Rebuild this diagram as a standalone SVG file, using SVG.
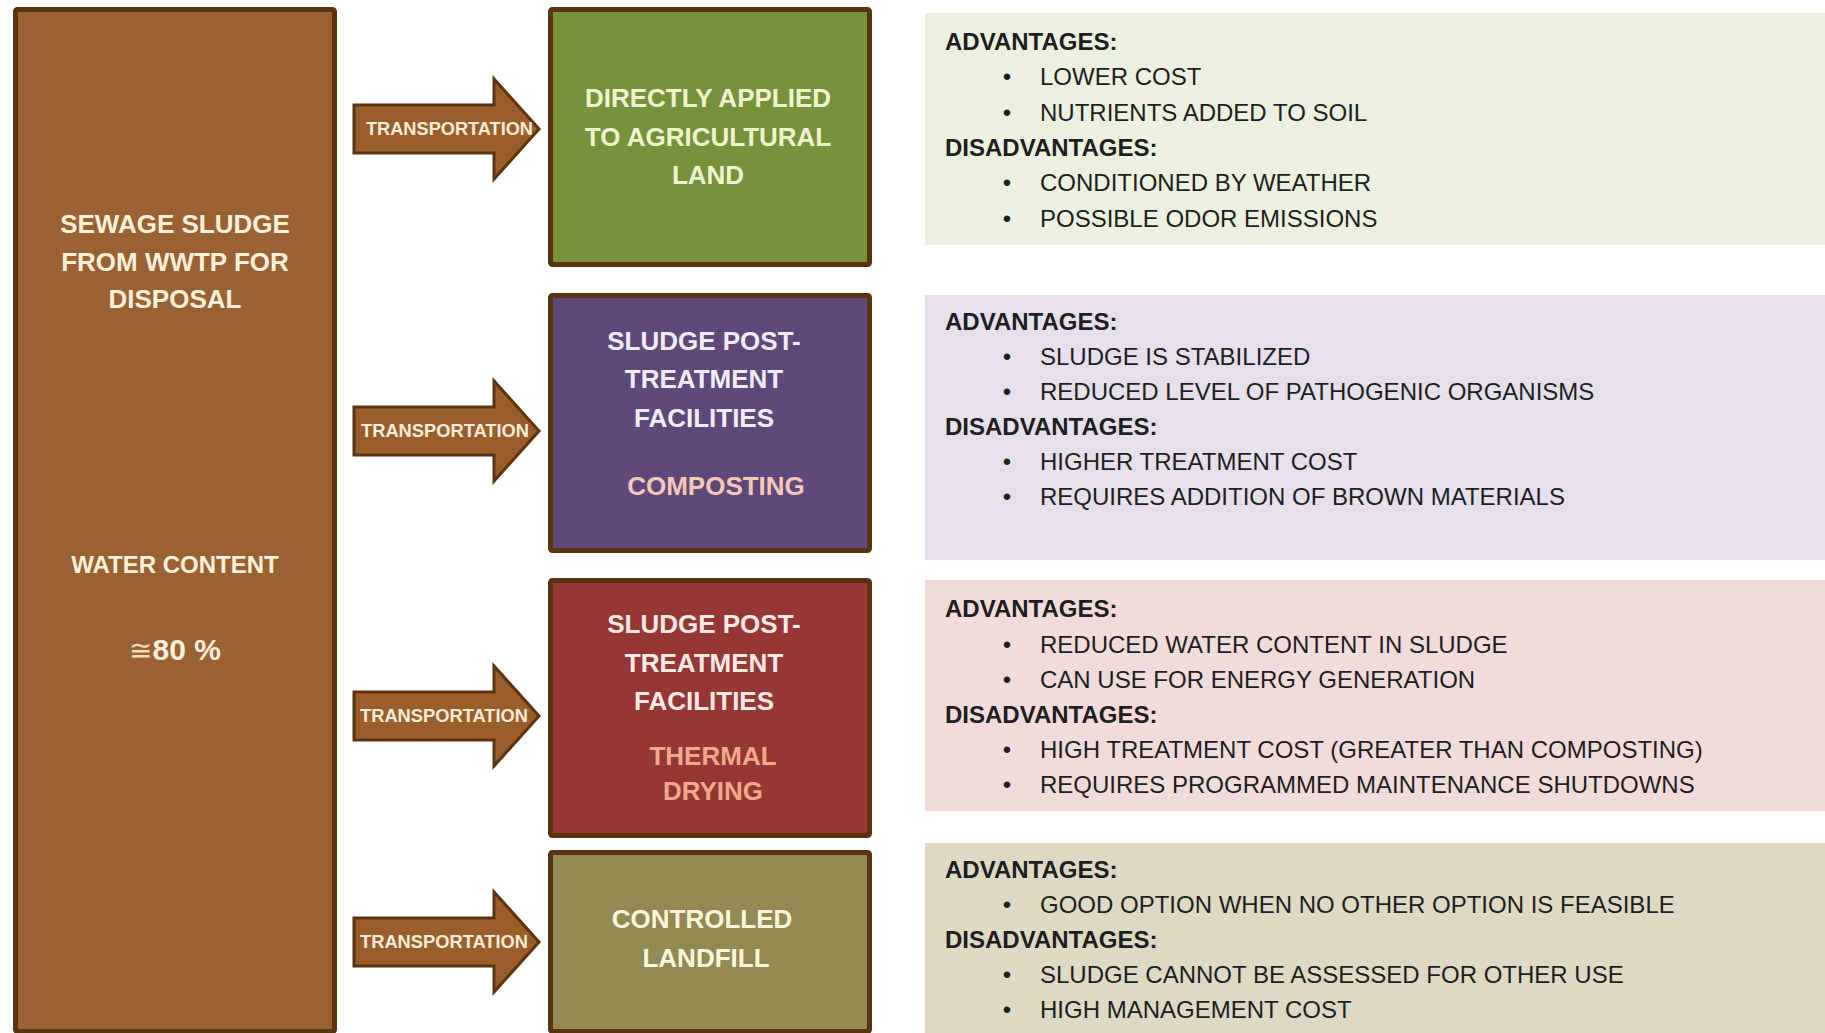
<svg xmlns="http://www.w3.org/2000/svg" width="1825" height="1033" viewBox="0 0 1825 1033">
  <style>
    .box { stroke: #5a3410; stroke-width: 5; }
    .title { font-family: "Liberation Sans", Arial, sans-serif; font-weight: bold; font-size: 26px; text-anchor: middle; }
    .arrow { fill: #9a5e2a; stroke: #5a3410; stroke-width: 3; stroke-linejoin: miter; }
    .alabel { font-family: "Liberation Sans", Arial, sans-serif; font-weight: bold; font-size: 18px; fill: #f6ecd9; }
    .head { font-family: "Liberation Sans", Arial, sans-serif; font-weight: bold; font-size: 24px; fill: #1e1e1e; }
    .item { font-family: "Liberation Sans", Arial, sans-serif; font-size: 24px; fill: #1e1e1e; }
    .bul { font-family: "Liberation Sans", Arial, sans-serif; font-size: 24px; fill: #1e1e1e; text-anchor: middle; }
  </style>
  <rect width="1825" height="1033" fill="#ffffff"/>

  <!-- Source -->
  <g id="source">
    <rect class="box" x="15.5" y="9.5" width="319" height="1022" rx="2" fill="#9a6233"/>
    <g class="title" fill="#fbf0da">
      <text x="175" y="233">SEWAGE SLUDGE</text>
      <text x="175" y="271">FROM WWTP FOR</text>
      <text x="175" y="308">DISPOSAL</text>
      <text x="175" y="573" font-size="24">WATER CONTENT</text>
      <text x="175" y="660" font-size="30"><tspan font-family="DejaVu Sans, sans-serif" font-weight="normal" font-size="28" fill="#f3dcb8">≅</tspan>80 %</text>
    </g>
  </g>

  <!-- Connectors -->
  <g id="connectors">
    <g id="arrow-1">
      <path class="arrow" d="M354,105 H494 V79 L539,129 L494,179 V153 H354 Z"/>
      <text class="alabel" x="366" y="135" textLength="167" lengthAdjust="spacingAndGlyphs">TRANSPORTATION</text>
    </g>
    <g id="arrow-2">
      <path class="arrow" d="M354,407 H494 V381 L539,431 L494,481 V455 H354 Z"/>
      <text class="alabel" x="361" y="437" textLength="168" lengthAdjust="spacingAndGlyphs">TRANSPORTATION</text>
    </g>
    <g id="arrow-3">
      <path class="arrow" d="M354,692 H494 V666 L539,716 L494,766 V740 H354 Z"/>
      <text class="alabel" x="360" y="722" textLength="168" lengthAdjust="spacingAndGlyphs">TRANSPORTATION</text>
    </g>
    <g id="arrow-4">
      <path class="arrow" d="M354,918 H494 V892 L539,942 L494,992 V966 H354 Z"/>
      <text class="alabel" x="360" y="948" textLength="168" lengthAdjust="spacingAndGlyphs">TRANSPORTATION</text>
    </g>
  </g>

  <!-- Disposal routes -->
  <g id="agricultural">
    <rect class="box" x="550.5" y="9.5" width="319" height="255" rx="2" fill="#76923c"/>
    <g class="title" fill="#eef4cc">
      <text x="708" y="107">DIRECTLY APPLIED</text>
      <text x="708" y="146">TO AGRICULTURAL</text>
      <text x="708" y="184">LAND</text>
    </g>
  </g>

  <g id="composting">
    <rect class="box" x="550.5" y="295.5" width="319" height="255" rx="2" fill="#5f497a"/>
    <g class="title" fill="#f1ecf5">
      <text x="704" y="350">SLUDGE POST-</text>
      <text x="704" y="388">TREATMENT</text>
      <text x="704" y="427">FACILITIES</text>
      <text x="716" y="495" fill="#f4c8b6">COMPOSTING</text>
    </g>
  </g>

  <g id="thermal-drying">
    <rect class="box" x="550.5" y="580.5" width="319" height="255" rx="2" fill="#953735"/>
    <g class="title" fill="#fbeae4">
      <text x="704" y="633">SLUDGE POST-</text>
      <text x="704" y="672">TREATMENT</text>
      <text x="704" y="710">FACILITIES</text>
      <text x="713" y="765" fill="#f2a98a">THERMAL</text>
      <text x="713" y="800" fill="#f2a98a">DRYING</text>
    </g>
  </g>

  <g id="landfill">
    <rect class="box" x="550.5" y="852.5" width="319" height="179" rx="2" fill="#938953"/>
    <g class="title" fill="#fbf6dc">
      <text x="702" y="928">CONTROLLED</text>
      <text x="706" y="967">LANDFILL</text>
    </g>
  </g>

  <!-- Pros and cons panels -->
  <g id="notes-agricultural">
    <rect x="925" y="13" width="900" height="232" fill="#ebf1de"/>
    <text class="head" x="945" y="50">ADVANTAGES:</text>
    <text class="bul" x="1007" y="85">•</text><text class="item" x="1040" y="85">LOWER COST</text>
    <text class="bul" x="1007" y="121">•</text><text class="item" x="1040" y="121">NUTRIENTS ADDED TO SOIL</text>
    <text class="head" x="945" y="156">DISADVANTAGES:</text>
    <text class="bul" x="1007" y="191">•</text><text class="item" x="1040" y="191">CONDITIONED BY WEATHER</text>
    <text class="bul" x="1007" y="227">•</text><text class="item" x="1040" y="227">POSSIBLE ODOR EMISSIONS</text>
  </g>

  <g id="notes-composting">
    <rect x="925" y="295" width="900" height="265" fill="#e5e0ec"/>
    <text class="head" x="945" y="330">ADVANTAGES:</text>
    <text class="bul" x="1007" y="365">•</text><text class="item" x="1040" y="365">SLUDGE IS STABILIZED</text>
    <text class="bul" x="1007" y="400">•</text><text class="item" x="1040" y="400">REDUCED LEVEL OF PATHOGENIC ORGANISMS</text>
    <text class="head" x="945" y="435">DISADVANTAGES:</text>
    <text class="bul" x="1007" y="470">•</text><text class="item" x="1040" y="470">HIGHER TREATMENT COST</text>
    <text class="bul" x="1007" y="505">•</text><text class="item" x="1040" y="505">REQUIRES ADDITION OF BROWN MATERIALS</text>
  </g>

  <g id="notes-thermal-drying">
    <rect x="925" y="580" width="900" height="231" fill="#f2dcdb"/>
    <text class="head" x="945" y="617">ADVANTAGES:</text>
    <text class="bul" x="1007" y="653">•</text><text class="item" x="1040" y="653">REDUCED WATER CONTENT IN SLUDGE</text>
    <text class="bul" x="1007" y="688">•</text><text class="item" x="1040" y="688">CAN USE FOR ENERGY GENERATION</text>
    <text class="head" x="945" y="723">DISADVANTAGES:</text>
    <text class="bul" x="1007" y="758">•</text><text class="item" x="1040" y="758">HIGH TREATMENT COST (GREATER THAN COMPOSTING)</text>
    <text class="bul" x="1007" y="793">•</text><text class="item" x="1040" y="793">REQUIRES PROGRAMMED MAINTENANCE SHUTDOWNS</text>
  </g>

  <g id="notes-landfill">
    <rect x="925" y="843" width="900" height="190" fill="#ddd9c3"/>
    <text class="head" x="945" y="878">ADVANTAGES:</text>
    <text class="bul" x="1007" y="913">•</text><text class="item" x="1040" y="913">GOOD OPTION WHEN NO OTHER OPTION IS FEASIBLE</text>
    <text class="head" x="945" y="948">DISADVANTAGES:</text>
    <text class="bul" x="1007" y="983">•</text><text class="item" x="1040" y="983">SLUDGE CANNOT BE ASSESSED FOR OTHER USE</text>
    <text class="bul" x="1007" y="1018">•</text><text class="item" x="1040" y="1018">HIGH MANAGEMENT COST</text>
  </g>
</svg>
